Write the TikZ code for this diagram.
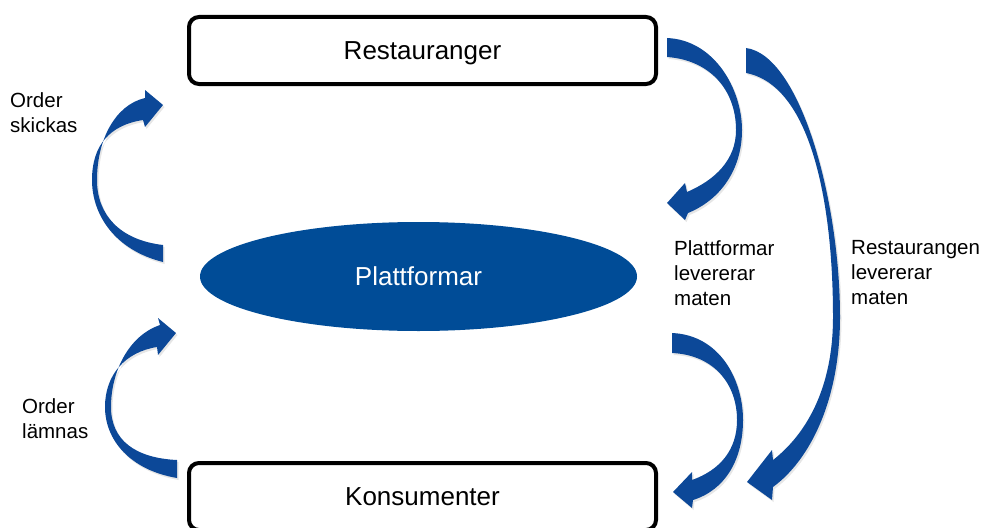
\documentclass[tikz,border=0pt]{standalone}
\usepackage{fontspec}
\setmainfont{Liberation Sans}
\usetikzlibrary{shapes.geometric, shadows}
\definecolor{platblue}{RGB}{0,76,151}
\definecolor{arrowblue}{RGB}{12,72,152}
\tikzset{
  actor/.style={
    draw=black, line width=4pt, rounded corners=10pt, fill=white,
    minimum width=467pt, minimum height=67pt, inner sep=0pt, text depth=0pt,
    font=\fontsize{26}{31}\selectfont
  },
  hub/.style={
    ellipse, fill=platblue, text=white, inner sep=0pt,
    minimum width=437pt, minimum height=109pt,
    font=\fontsize{26}{31}\selectfont
  },
  caption/.style={align=left, inner sep=0pt, anchor=west, font=\fontsize{20.5}{25}\selectfont},
  ribbon/.style={fill=arrowblue, drop shadow={shadow xshift=1.5pt, shadow yshift=-2pt, opacity=0.2}}
}

\begin{document}
\begin{tikzpicture}[x=1pt, y=-1pt]
    \useasboundingbox (0,0) rectangle (987,527);

    % Nodes
    \node[actor] (rest) at (422.5,50.5) {Restauranger};
    \node[hub]   (plat) at (418.5,276.5) {Plattformar};
    \node[actor] (kons) at (422.5,496.5) {Konsumenter};

    % Labels
    \node[caption] (skickas) at (10,112.5) {Order\\skickas};
    \node[caption] (lamnas)  at (22,419)   {Order\\lämnas};
    \node[caption] (platlev) at (674,273)  {Plattformar\\levererar\\maten};
    \node[caption] (restlev) at (851,273)  {Restaurangen\\levererar\\maten};

    % Order arrows (left)
    \fill[ribbon] (163,262) .. controls (115,250) and (92,215) .. (92,180)
        .. controls (92,145) and (110,125) .. (143,120) -- (145,127) -- (163,105) -- (145,90) -- (145,98)
        .. controls (115,105) and (97,140) .. (97,180)
        .. controls (97,215) and (120,240) .. (163,245) -- cycle;
    \fill[ribbon] (177,478) .. controls (130,470) and (105,440) .. (105,407)
        .. controls (105,375) and (125,352) .. (157,347) -- (158,355) -- (176,333) -- (158,318) -- (160,325)
        .. controls (130,335) and (111,370) .. (111,407)
        .. controls (111,440) and (135,458) .. (177,460) -- cycle;

    % Delivery arrows (right)
    \fill[ribbon] (667,38) .. controls (715,40) and (742,90) .. (742,130)
        .. controls (742,170) and (720,200) .. (688,213) -- (685,220) -- (667,203) -- (685,183) -- (687,192)
        .. controls (715,180) and (736,160) .. (736,130)
        .. controls (736,90) and (710,60) .. (667,57) -- cycle;
    \fill[ribbon] (672,333) .. controls (720,335) and (743,380) .. (743,420)
        .. controls (743,460) and (725,490) .. (693,500) -- (692,508) -- (673,492) -- (692,472) -- (692,480)
        .. controls (720,470) and (737,450) .. (737,420)
        .. controls (737,385) and (715,355) .. (672,353) -- cycle;
    \fill[ribbon] (746,48) .. controls (800,55) and (840,200) .. (840,317)
        .. controls (840,400) and (810,460) .. (773,487) -- (772,500) -- (747,482) -- (772,450) -- (773,460)
        .. controls (805,435) and (833,390) .. (833,317)
        .. controls (833,200) and (810,85) .. (746,73) -- cycle;

\end{tikzpicture}
\end{document}
